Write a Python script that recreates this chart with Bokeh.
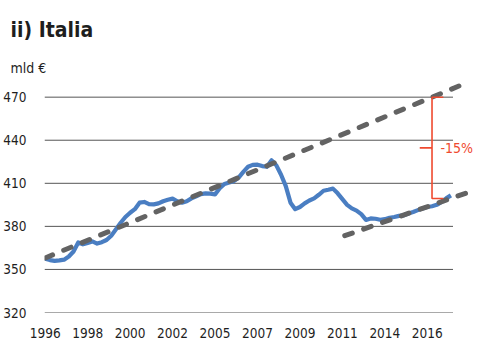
from bokeh.plotting import figure
from bokeh.models import Range1d, FixedTicker, Label, Title
from bokeh.embed import file_html
from bokeh.resources import INLINE

FONT = "'DejaVu Sans Condensed', sans-serif"

# Quarterly series, 1996Q1 .. 2017Q3 (mld €)
values = [357.5, 356.5, 356.0, 356.3, 356.8, 359.0, 362.5, 368.8, 367.5, 368.5,
          369.5, 368.0, 369.0, 370.5, 373.5, 378.0, 382.5, 386.5, 389.5, 392.0,
          396.5, 397.0, 395.5, 395.3, 396.0, 397.5, 398.5, 399.3, 397.5, 396.5,
          397.5, 399.5, 401.0, 402.5, 403.0, 402.8, 402.3, 406.5, 409.5, 410.5,
          411.5, 414.0, 418.0, 421.5, 422.8, 423.0, 422.0, 421.5, 426.0, 422.5,
          416.0, 408.0, 396.5, 392.0, 393.5, 396.0, 398.0, 399.5, 402.0, 404.8,
          405.5, 406.3, 403.0, 399.0, 395.0, 392.5, 391.0, 388.5, 384.5, 385.5,
          385.3, 384.6, 385.0, 386.0, 386.5, 387.3, 387.7, 389.0, 390.0, 391.3,
          392.5, 393.5, 394.0, 395.0, 397.0, 399.5, 401.6]
quarters = list(range(len(values)))

tick_positions = [0, 9, 18, 27, 36, 45, 54, 63, 72, 81]
tick_labels = ["1996", "1998", "2000", "2002", "2005", "2007", "2009", "2011", "2014", "2016"]
y_ticks = [320, 350, 380, 410, 440, 470]

# pre-crisis trend (upper) and post-crisis trend (lower)
trend_hi_q = [0, 89]
trend_hi_v = [358.0, 479.5]
trend_lo_q = [63.5, 89.5]
trend_lo_v = [373.5, 403.5]

gap_q = 82          # quarter where the gap is measured
gap_pct = -0.15
gap_label = "-15%"

BLUE = "#4A7EC2"
GREY = "#636363"
RED = "#EF4A2F"
GRID = "#555555"
TXT = "#1e1e1e"

p = figure(width=478, height=344, output_backend="svg", toolbar_location=None,
           title="ii) Italia",
           x_range=Range1d(-0.15, 91.43), y_range=Range1d(320, 483),
           min_border_left=42, min_border_right=2, min_border_top=78, min_border_bottom=32)
p.outline_line_color = None
p.xgrid.visible = False
p.ygrid.visible = False
p.background_fill_color = "white"
p.border_fill_color = "white"

p.title.align = "left"
p.title.offset = -34
p.title.standoff = 27
p.title.text_font = FONT
p.title.text_font_size = "21px"
p.title.text_font_style = "bold"
p.title.text_color = TXT

for ax in (p.xaxis[0], p.yaxis[0]):
    ax.axis_line_color = None
    ax.major_tick_line_color = None
    ax.minor_tick_line_color = None
    ax.major_label_text_font = FONT
    ax.major_label_text_font_size = "13.5px"
    ax.major_label_text_color = TXT

p.xaxis.ticker = FixedTicker(ticks=tick_positions)
p.xaxis.major_label_overrides = {t: l for t, l in zip(tick_positions, tick_labels)}
p.xaxis.major_label_standoff = 9
p.yaxis.ticker = FixedTicker(ticks=y_ticks)
p.yaxis.major_label_standoff = 12

# horizontal gridlines spanning the data extent only
g_start = quarters[0] - 0.15
g_end = quarters[-1] + 0.45
p.segment(x0=[g_start] * len(y_ticks), x1=[g_end] * len(y_ticks), y0=y_ticks, y1=y_ticks,
          line_color=GRID, line_width=1)

p.line(quarters, values, line_color=BLUE, line_width=4.2, line_join="round")

p.line(trend_hi_q, trend_hi_v, line_color=GREY, line_width=5, line_dash="8 12", line_cap="round")
p.line(trend_lo_q, trend_lo_v, line_color=GREY, line_width=5, line_dash="8 12", line_cap="round")

# bracket showing the gap
slope = (trend_hi_v[1] - trend_hi_v[0]) / (trend_hi_q[1] - trend_hi_q[0])
top = trend_hi_v[0] + slope * (gap_q - trend_hi_q[0])
bot = top * (1 + gap_pct)
mid = (top + bot) / 2
p.line([gap_q + 2.4, gap_q, gap_q, gap_q + 2.4], [top, top, bot, bot],
       line_color=RED, line_width=1.6)
p.line([gap_q - 2.6, gap_q], [mid, mid], line_color=RED, line_width=1.6)

p.add_layout(Label(x=gap_q + 1.8, y=mid, text=gap_label, text_color=RED,
                   text_font=FONT, text_font_size="14px", text_baseline="middle"))

# unit label, between the title and the frame
p.add_layout(Title(text="mld €", align="left", offset=-34, standoff=5,
                   text_font=FONT, text_font_size="14px", text_font_style="normal",
                   text_color=TXT), "above")

open("out.html", "w").write(file_html(p, INLINE))
